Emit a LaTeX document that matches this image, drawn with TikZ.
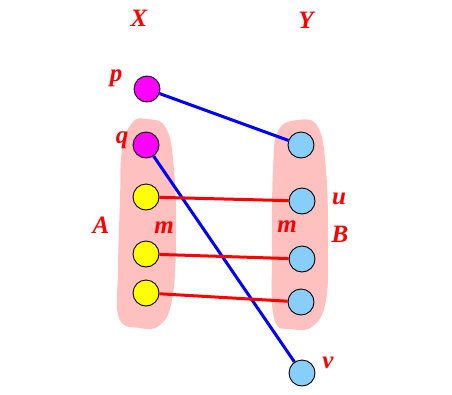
\documentclass[tikz,border=0pt]{standalone}
\usepackage{fontspec}
\setmainfont{Liberation Serif}
\usepackage{tikz}
\usetikzlibrary{positioning}
\definecolor{SETpink}{HTML}{FFC0C0}
\definecolor{SETmag}{HTML}{FF00FF}
\definecolor{SETyel}{HTML}{FFFF00}
\definecolor{SETsky}{HTML}{87CEFA}
\tikzset{vtx/.style={circle,draw=black,line width=0.9pt,minimum size=26pt,inner sep=0pt},
 setlbl/.style={text=red,font=\fontsize{25}{27}\selectfont\bfseries\itshape,inner sep=0pt},
 redarr/.style={draw=red,line width=3pt},
 bluearr/.style={draw=blue,line width=3pt}}

\begin{document}
\begin{tikzpicture}[x=1pt,y=-1pt]
\useasboundingbox (0,0) rectangle (452,394);
% blobs A and B
\fill[SETpink] plot[smooth cycle,tension=0.7] coordinates {(146,119) (166,128) (174,170) (176,240) (172,300) (160,325) (140,328) (119,318) (118,270) (120,200) (122,150) (132,123)};
\fill[SETpink] plot[smooth cycle,tension=0.7] coordinates {(298,120) (318,127) (326,170) (328,240) (326,300) (313,326) (292,329) (274,318) (272,250) (273,170) (278,131)};
% X side
\node[vtx,fill=SETmag] (p) at (147,89) {};
\node[vtx,fill=SETmag] (q) at (146,145) {};
\node[vtx,fill=SETyel] (a1) at (146,197) {};
\node[vtx,fill=SETyel] (a2) at (146,254) {};
\node[vtx,fill=SETyel] (a3) at (146,293) {};
% Y side
\node[vtx,fill=SETsky] (b0) at (301,145) {};
\node[vtx,fill=SETsky] (u) at (302,201) {};
\node[vtx,fill=SETsky] (b2) at (302,259) {};
\node[vtx,fill=SETsky] (b3) at (301,302) {};
\node[vtx,fill=SETsky] (v) at (302,373) {};
% labels
\node[setlbl] (lX) at (139,18) {X};
\node[setlbl] (lY) at (306,20) {Y};
\node[setlbl] (lp) at (116,78) {p};
\node[setlbl] (lq) at (122,140) {q};
\node[setlbl] (lA) at (101,225) {A};
\node[setlbl] (lmA) at (164,228) {m};
\node[setlbl] (lmB) at (287,227) {m};
\node[setlbl] (lB) at (340,234) {B};
\node[setlbl] (lu) at (339,199) {u};
\node[setlbl] (lv) at (328,363) {v};
% matching edges
\draw[bluearr] (p)--(b0);
\draw[bluearr] (q)--(v);
\draw[redarr] (a1)--(u);
\draw[redarr] (a2)--(b2);
\draw[redarr] (a3)--(b3);
\end{tikzpicture}
\end{document}
